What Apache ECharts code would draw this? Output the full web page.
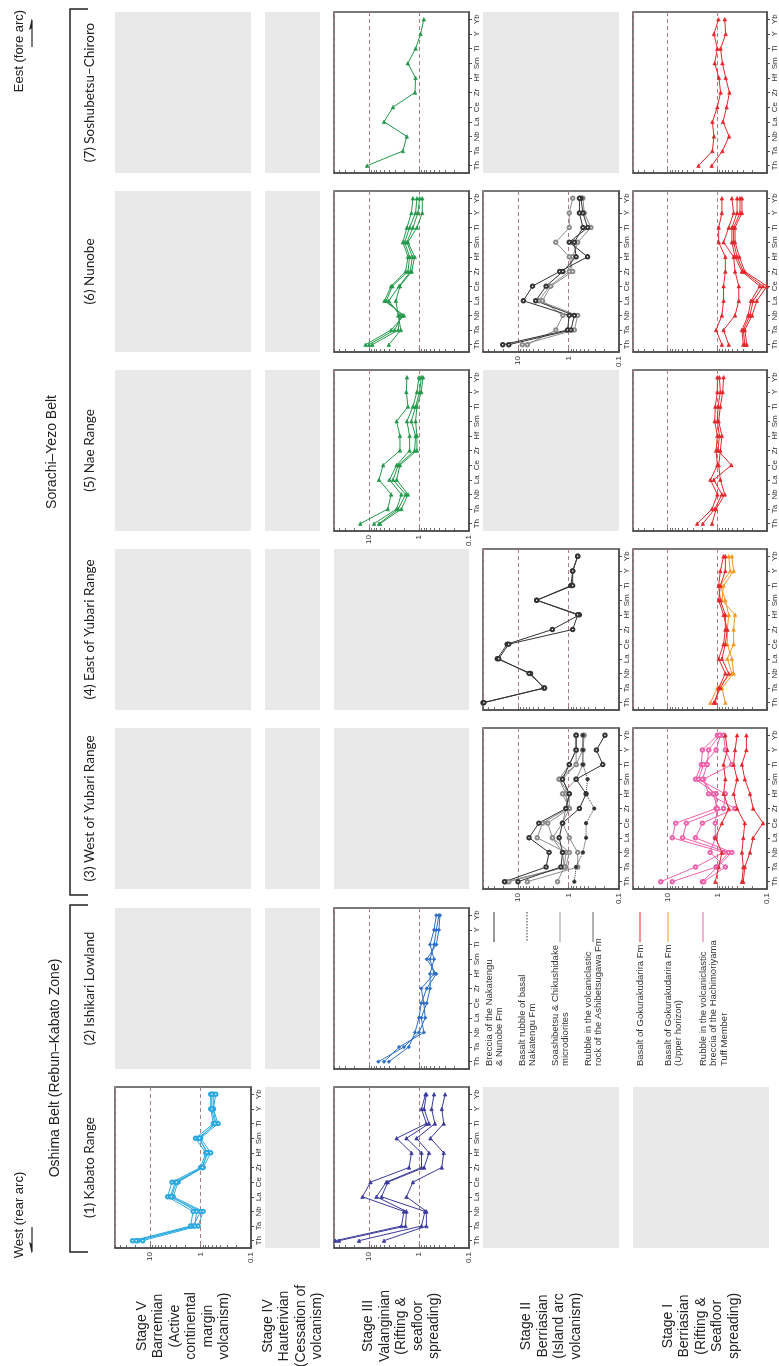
<!DOCTYPE html>
<html><head><meta charset="utf-8">
<script src="https://cdn.jsdelivr.net/npm/echarts@6/dist/echarts.min.js"></script>
<style>html,body{margin:0;padding:0;background:#fff}#c{width:779px;height:1366px}</style>
</head><body><div id="c"></div>
<script>
const elements = ['Th','Ta','Nb','La','Ce','Zr','Hf','Sm','Ti','Y','Yb'];
const valueTicks = ['0.1','1','10'];

// (7) Soshubetsu–Chiroro
const s7_III = [[10.9,2.1,1.75,5.0,3.3,1.2,1.17,1.67,1.17,0.93,0.8]];
const s7_I = [[2.4,1.26,1.17,1.26,1.0,0.86,0.93,1.13,1.0,1.17,0.95],
              [1.3,0.79,0.58,0.77,0.65,0.57,0.68,0.79,0.86,0.68,0.71]];
// (6) Nunobe
const s6_III = [[11.7,3.6,2.0,4.9,3.6,1.85,1.66,2.1,1.74,1.42,1.32],
                [10.0,3.1,2.15,4.5,3.4,1.66,1.54,1.93,1.54,1.17,1.1],
                [8.6,2.6,2.4,4.0,2.5,1.49,1.36,1.74,1.32,1.05,0.97],
                [4.0,2.3,2.6,2.9,2.4,1.4,1.22,1.66,1.1,0.86,0.86]];
const s6_II_black = [[20.3,1.05,0.97,7.9,5.2,1.5,0.42,0.97,0.42,0.52,0.57],
                     [15.4,0.9,0.77,4.5,2.8,1.3,0.71,0.77,0.52,0.61,0.61]];
const s6_II_gray = [[8.3,0.77,0.66,3.9,2.4,0.97,0.83,0.66,0.36,0.49,0.52],
                    [6.6,1.79,1.3,3.3,2.25,0.83,0.97,1.8,0.97,0.97,0.83]];
const s6_I = [[0.81,1.06,0.81,0.75,0.75,0.69,0.69,0.94,0.94,0.81,0.81],
              [0.59,0.75,0.44,0.37,0.37,0.44,0.47,0.75,0.59,0.47,0.51],
              [0.30,0.32,0.24,0.21,0.14,0.32,0.44,0.51,0.51,0.40,0.40],
              [0.28,0.30,0.22,0.19,0.12,0.30,0.40,0.47,0.47,0.35,0.35],
              [0.255,0.28,0.20,0.16,0.10,0.28,0.36,0.44,0.44,0.32,0.32]];
// (5) Nae Range
const s5_III = [[14.9,4.2,3.6,6.3,5.2,2.4,2.4,2.8,1.66,1.79,1.74],
                [7.9,2.8,2.25,3.9,2.8,1.54,1.54,1.74,1.32,1.1,1.0],
                [6.3,2.6,1.85,3.3,2.6,1.22,1.17,1.42,1.17,0.97,0.9],
                [6.0,2.25,1.66,2.8,2.4,1.1,1.1,1.17,1.1,0.9,0.83]];
const s5_I = [[2.55,1.28,1.0,1.38,1.0,1.06,1.0,1.13,1.1,1.0,1.0],
              [1.96,1.13,0.81,1.18,0.52,0.97,0.91,1.0,0.97,0.87,0.91],
              [1.28,1.06,0.71,0.87,0.94,0.87,0.81,0.94,0.87,0.78,0.75]];
// (4) East of Yubari Range
const s4_II = [[50,3.1,5.7,26,16.6,2.1,0.61,4.3,0.9,0.83,0.66],
               [48,3.0,6.1,24.4,15.4,0.83,0.66,4.3,0.83,0.83,0.66]];
const s4_I_red = [[1.1,0.94,0.69,0.94,0.75,0.69,0.69,0.87,0.94,0.87,0.75],
                  [1.18,0.87,0.59,0.81,0.69,0.63,0.75,0.94,0.87,0.69,0.69]];
const s4_I_orange = [[1.38,1.0,0.51,0.63,0.47,0.47,0.44,0.81,0.75,0.47,0.51],
                     [0.69,0.81,0.47,0.51,0.63,0.63,0.59,0.69,0.87,0.55,0.59]];
// (3) West of Yubari Range
const s3_II_black = [[18.7,2.8,2.44,6.1,3.9,1.13,0.97,1.32,0.97,0.71,0.71],
                     [10.1,1.42,1.32,1.54,1.32,0.61,0.45,0.71,0.21,0.28,0.19]];
const s3_II_gray = [[17.4,1.22,1.13,4.2,3.3,1.05,1.13,1.54,0.71,0.71,0.71],
                    [15.4,1.13,0.97,2.09,2.6,0.97,1.32,0.71,0.52,0.52,0.52],
                    [6.6,0.66,0.66,0.97,1.32,0.97,0.97,1.32,0.71,0.52,0.49],
                    [1.66,1.22,1.32,2.09,1.32,1.13,0.97,1.54,0.97,0.71,0.71]];
const s3_II_dotted = [[0.77,0.71,0.52,0.45,0.45,0.31,0.45,0.42,0.52,0.52,0.52]];
const s3_I_red = [[1.1,0.94,0.81,1.1,0.81,0.59,0.75,0.69,0.75,0.63,0.69],
                  [0.32,0.30,0.32,0.30,0.28,0.40,0.47,0.40,0.47,0.44,0.40],
                  [0.30,0.28,0.22,0.19,0.12,0.19,0.22,0.28,0.32,0.26,0.26]];
const s3_I_pink = [[13.8,2.75,0.75,8.1,6.9,1.06,1.06,2.75,2.1,2.0,1.0],
                   [8.1,1.06,0.59,5.0,4.2,0.75,0.69,2.4,1.9,1.06,0.87],
                   [2.0,1.0,0.51,2.75,2.0,0.44,1.5,1.9,0.51,0.69,0.75],
                   [1.88,0.69,1.4,1.1,1.1,1.0,1.2,2.0,1.6,1.5,0.9]];
// (2) Ishikari Lowland
const s2_III = [[6.5,2.0,1.0,0.75,0.8,0.9,0.5,0.6,0.5,0.45,0.4],
                [5.0,2.5,0.8,0.9,0.7,0.6,0.6,0.5,0.6,0.5,0.45],
                [4.0,1.6,1.2,1.0,0.9,0.7,0.45,0.7,0.45,0.4,0.38]];
// (1) Kabato Range
const s1_V = [[22.4,1.58,1.41,4.5,3.7,1.0,0.79,1.26,0.56,0.63,0.63],
              [17.8,1.41,1.0,4.0,3.2,0.95,0.71,1.12,0.5,0.56,0.56],
              [14.1,1.12,0.89,3.5,2.8,0.89,0.63,1.0,0.45,0.56,0.5],
              [19.0,1.3,1.2,3.8,3.0,0.92,0.75,1.05,0.52,0.6,0.6]];
const s1_III = [[46.8,2.24,2.0,13.5,9.3,1.58,1.41,2.8,0.71,0.89,0.74],
                [39.8,1.86,1.78,7.1,4.5,0.89,0.89,1.78,0.63,0.79,0.71],
                [15.8,0.89,0.76,5.6,4.2,0.79,0.63,1.12,0.48,0.56,0.5],
                [5.0,0.71,0.71,1.78,1.32,0.35,0.32,0.59,0.32,0.35,0.30]];

const rowTop = {7:12, 6:191, 5:370, 4:549, 3:728, 2:908, 1:1087};
const rowH = 161;
const col = {V:[115,251], IV:[265,320], III:[334,469], II:[483,619], I:[633,769]};

const C = {green:'#22994a', red:'#e3262b', orange:'#f4961f', pink:'#ef62ab', lblue:'#2aa9e0',
           indigo:'#3a3a9c', blue:'#2c6ec6', black:'#333333', gray:'#8c8c8c'};

const panels = [
  {r:7,c:'III',lab:false,sets:[[s7_III,C.green,'triangle','solid']]},
  {r:7,c:'I',lab:false,sets:[[s7_I,C.red,'triangle','solid']]},
  {r:6,c:'III',lab:false,sets:[[s6_III,C.green,'triangle','solid']]},
  {r:6,c:'II',lab:true,sets:[[s6_II_gray,C.gray,'emptyCircle','solid'],[s6_II_black,C.black,'emptyCircle','solid']]},
  {r:6,c:'I',lab:false,sets:[[s6_I,C.red,'triangle','solid']]},
  {r:5,c:'III',lab:true,sets:[[s5_III,C.green,'triangle','solid']]},
  {r:5,c:'I',lab:false,sets:[[s5_I,C.red,'triangle','solid']]},
  {r:4,c:'II',lab:false,sets:[[s4_II,C.black,'emptyCircle','solid']]},
  {r:4,c:'I',lab:false,sets:[[s4_I_orange,C.orange,'triangle','solid'],[s4_I_red,C.red,'triangle','solid']]},
  {r:3,c:'II',lab:true,sets:[[s3_II_gray,C.gray,'emptyCircle','solid'],[s3_II_black,C.black,'emptyCircle','solid'],[s3_II_dotted,C.black,'circle','dotted']]},
  {r:3,c:'I',lab:true,sets:[[s3_I_pink,C.pink,'emptyCircle','solid'],[s3_I_red,C.red,'triangle','solid']]},
  {r:2,c:'III',lab:false,sets:[[s2_III,C.blue,'diamond','solid']]},
  {r:1,c:'V',lab:true,sets:[[s1_V,C.lblue,'emptyCircle','solid']]},
  {r:1,c:'III',lab:true,sets:[[s1_III,C.indigo,'triangle','solid']]}
];

const grays = [[7,'V'],[7,'IV'],[7,'II'],[6,'V'],[6,'IV'],[5,'V'],[5,'IV'],[5,'II'],
  [4,'V'],[4,'IV'],[4,'III'],[3,'V'],[3,'IV'],[3,'III'],[2,'V'],[2,'IV'],[1,'IV'],[1,'II'],[1,'I']];

const minorVals = [];
[0.1,1,10].forEach(d=>{for(let k=1;k<=9;k++){const v=+(d*k).toPrecision(2); if(v<=50) minorVals.push(v);}});

const grid=[], xAxis=[], yAxis=[], series=[];
panels.forEach((p,i)=>{
  const [x0,x1]=col[p.c];
  grid.push({left:x0, top:rowTop[p.r], width:x1-x0, height:rowH, show:true, borderColor:'#4d4d4d', borderWidth:1.5, backgroundColor:'#fff'});
  xAxis.push({gridIndex:i, type:'log', logBase:10, min:0.1, max:50, inverse:true, position:'bottom',
    axisLine:{show:true, lineStyle:{color:'#4d4d4d', width:1.5}},
    axisTick:{show:false},
    splitLine:{show:true, lineStyle:{type:[4,3], color:'#a88080', width:1}},
    axisLabel:{show:p.lab, rotate:90, fontSize:8, color:'#333', margin:4, fontFamily:'Liberation Sans',
      formatter:v=>{ if(Math.abs(v-0.1)<1e-6) return valueTicks[0]; if(Math.abs(v-1)<1e-6) return valueTicks[1]; if(Math.abs(v-10)<1e-6) return valueTicks[2]; return ''; }}});
  xAxis.push({gridIndex:i, type:'log', logBase:10, min:0.1, max:50, inverse:true, position:'bottom',
    axisLine:{show:false}, splitLine:{show:false}, axisLabel:{show:false},
    axisTick:{show:true, inside:true, length:3, customValues:minorVals, lineStyle:{color:'#4d4d4d', width:0.8}}});
  yAxis.push({gridIndex:i, type:'category', data:elements, position:'right', boundaryGap:true,
    axisLine:{show:true, lineStyle:{color:'#4d4d4d', width:1.5}},
    axisTick:{show:true, alignWithLabel:true, interval:0, length:3, lineStyle:{color:'#4d4d4d'}},
    splitLine:{show:false},
    axisLabel:{rotate:90, interval:0, fontSize:8, color:'#333', margin:4, fontFamily:'Liberation Sans'}});
  p.sets.forEach(([arr,color,sym,ls])=>{
    arr.forEach(vals=>{
      series.push({type:'line', xAxisIndex:2*i, yAxisIndex:i, data:vals.map((v,k)=>[v,elements[k]]),
        symbol:sym, symbolSize:3.5, showSymbol:true,
        lineStyle:{color, width:1, type:ls}, itemStyle:{color, borderColor:color, borderWidth:0.7},
        clip:true, animation:false, silent:true});
    });
  });
});

const graphic=[];
grays.forEach(([r,c])=>{
  const [x0,x1]=col[c];
  graphic.push({type:'rect', shape:{x:x0, y:rowTop[r], width:x1-x0, height:rowH}, style:{fill:'#e9e9ea'}, silent:true});
});
function vtext(x,y,text,opt={}){
  graphic.push({type:'text', x, y, rotation:Math.PI/2, silent:true,
    style:Object.assign({text, fill:'#222', fontSize:13, fontFamily:'Liberation Sans', align:'center', verticalAlign:'middle'}, opt)});
}
function line(pts,opt={}){
  graphic.push({type:'polyline', shape:{points:pts}, silent:true, style:Object.assign({stroke:'#222', lineWidth:1.5, fill:null}, opt)});
}
// region headings
vtext(19,51,'Eest (fore arc)',{fontSize:13});
line([[32,47],[32,20]],{lineWidth:1.2});
graphic.push({type:'polygon', shape:{points:[[32,18],[29,30],[32,28]]}, style:{fill:'#222'}, silent:true});
vtext(19,1215,'West (rear arc)',{fontSize:13});
line([[32,1227],[32,1252]],{lineWidth:1.2});
graphic.push({type:'polygon', shape:{points:[[32,1254],[29,1242],[32,1244]]}, style:{fill:'#222'}, silent:true});
vtext(52,452,'Sorachi–Yezo Belt',{fontSize:14});
vtext(55,1068,'Oshima Belt (Rebun–Kabato Zone)',{fontSize:14});
line([[88,9],[70,9],[70,895],[88,895]]);
line([[88,905],[70,905],[70,1252],[88,1252]]);
const rowNames = {7:'(7) Soshubetsu–Chiroro',6:'(6) Nunobe',5:'(5) Nae Range',4:'(4) East of Yubari Range',
  3:'(3) West of Yubari Range',2:'(2) Ishikari Lowland',1:'(1) Kabato Range'};
Object.keys(rowNames).forEach(r=>vtext(90,rowTop[r]+rowH/2,rowNames[r],{fontSize:13.5,fontFamily:'Lato'}));
// stage labels
const stageNames = {V:['Stage V','Barremian','(Active','continental','margin','volcanism)'],
  IV:['Stage IV','Hauterivian','(Cessation of','volcanism)'],
  III:['Stage III','Valanginian','(Rifting &','seafloor','spreading)'],
  II:['Stage II','Berriasian','(Island arc','volcanism)'],
  I:['Stage I','Berriasian','(Rifting &','Seafloor','spreading)']};
Object.keys(stageNames).forEach(c=>{
  const L=stageNames[c], cx=(col[c][0]+col[c][1])/2, lh=16.5;
  L.forEach((t,k)=>vtext(cx+(k-(L.length-1)/2)*lh,1326,t,{fontSize:14}));
});
// legends
const legII = [
  {lines:['Breccia of the Nakatengu','& Nunobe Fm'], color:C.black, dash:'solid'},
  {lines:['Basalt rubble of basal','Nakatengu Fm'], color:C.black, dash:[1.5,1.5]},
  {lines:['Soashibetsu & Chikushidake','microdiorites'], color:'#999', dash:'solid'},
  {lines:['Rubble in the volcaniclastic','rock of the Ashibetsugawa Fm'], color:'#666', dash:'solid'}];
legII.forEach((e,k)=>{
  const x=489+k*33;
  line([[x+5,912],[x+5,942]],{stroke:e.color, lineWidth:1, lineDash:e.dash==='solid'?null:e.dash});
  e.lines.forEach((t,j)=>vtext(x+j*10.5,1066,t,{fontSize:9.5,align:'left',fill:'#333'}));
});
const legI = [
  {lines:['Basalt of Gokurakudarira Fm'], color:C.red},
  {lines:['Basalt of Gokurakudarira Fm','(Upper horizon)'], color:C.orange},
  {lines:['Rubble in the volcaniclastic','breccia of the Hachimoriyama','Tuff Member'], color:C.pink}];
[640,668,703].forEach((x,k)=>{
  const e=legI[k];
  line([[x,912],[x,942]],{stroke:e.color, lineWidth:1});
  e.lines.forEach((t,j)=>vtext(x+j*10.5,1066,t,{fontSize:9.5,align:'left',fill:'#333'}));
});

const chart = echarts.init(document.getElementById('c'), null, {renderer:'canvas'});
chart.setOption({animation:false, backgroundColor:'#fff', grid, xAxis, yAxis, series, graphic});
</script></body></html>
